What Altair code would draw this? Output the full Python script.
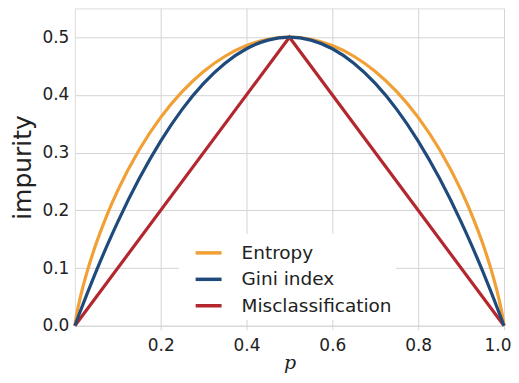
import altair as alt
import pandas as pd

p_vals = [0.0, 0.005, 0.01, 0.02, 0.03, 0.05, 0.075, 0.1, 0.15, 0.2, 0.25, 0.3, 0.35, 0.4, 0.45, 0.5,
          0.55, 0.6, 0.65, 0.7, 0.75, 0.8, 0.85, 0.9, 0.925, 0.95, 0.97, 0.98, 0.99, 0.995, 1.0]
entropy_vals = [0.0, 0.0227, 0.0404, 0.0707, 0.0972, 0.1432, 0.1922, 0.2345, 0.3049, 0.3610, 0.4056,
                0.4406, 0.4670, 0.4855, 0.4964, 0.5,
                0.4964, 0.4855, 0.4670, 0.4406, 0.4056, 0.3610, 0.3049, 0.2345, 0.1922, 0.1432,
                0.0972, 0.0707, 0.0404, 0.0227, 0.0]
gini_vals = [0.0, 0.00995, 0.0198, 0.0392, 0.0582, 0.095, 0.1388, 0.18, 0.255, 0.32, 0.375, 0.42,
             0.455, 0.48, 0.495, 0.5,
             0.495, 0.48, 0.455, 0.42, 0.375, 0.32, 0.255, 0.18, 0.1388, 0.095, 0.0582, 0.0392,
             0.0198, 0.00995, 0.0]
mis_p = [0.0, 0.5, 1.0]
mis_vals = [0.0, 0.5, 0.0]

series_names = ["Entropy", "Gini index", "Misclassification"]
series_colors = ["#F1A035", "#1F4A7C", "#B3282F"]
x_ticks = [0.2, 0.4, 0.6, 0.8, 1.0]
y_ticks = [0.0, 0.1, 0.2, 0.3, 0.4, 0.5]

rows = []
for p, v in zip(p_vals, entropy_vals):
    rows.append({"p": p, "impurity": v, "series": "Entropy"})
for p, v in zip(p_vals, gini_vals):
    rows.append({"p": p, "impurity": v, "series": "Gini index"})
curves = pd.DataFrame(rows)
mis = pd.DataFrame({"p": mis_p, "impurity": mis_vals, "series": "Misclassification"})

grid_color = "#d4d4d4"
font = "DejaVu Sans"

x_enc = alt.X("p:Q", scale=alt.Scale(domain=[0, 1], nice=False),
              axis=alt.Axis(values=x_ticks, format=".1f", title="p", grid=True,
                            gridColor=grid_color, domain=False, ticks=True, tickColor=grid_color,
                            tickSize=4, labelFontSize=17, labelPadding=8, labelColor="#222",
                            labelFlush=True, labelFlushOffset=7,
                            titleFont="DejaVu Serif", titleFontStyle="italic", titleFontWeight="normal",
                            titleFontSize=19, titlePadding=0, titleColor="#222", labelFont=font))
y_enc = alt.Y("impurity:Q", scale=alt.Scale(domain=[0, 0.55], nice=False),
              axis=alt.Axis(values=y_ticks, format=".1f", title="impurity", grid=True,
                            gridColor=grid_color, domain=False, ticks=False, labelFontSize=17,
                            labelPadding=6, labelColor="#222", titleFontSize=25,
                            titleFontWeight="normal", titlePadding=6, titleColor="#222",
                            labelFont=font, titleFont=font))
color_enc = alt.Color("series:N",
                      scale=alt.Scale(domain=series_names, range=series_colors),
                      legend=alt.Legend(title=None, orient="none", legendX=104, legendY=226,
                                        fillColor="white", symbolType="stroke", symbolSize=676,
                                        symbolStrokeWidth=3.5, labelFontSize=18.5, labelFont=font,
                                        labelColor="#222", labelOffset=18, rowPadding=1.5,
                                        padding=4, symbolOffset=11))

curve_layer = alt.Chart(curves).mark_line(strokeWidth=3.2, interpolate="monotone").encode(
    x=x_enc, y=y_enc, color=color_enc, detail="series:N", order="p:Q")
mis_layer = alt.Chart(mis).mark_line(strokeWidth=3.2).encode(
    x=x_enc, y=y_enc, color=color_enc, order="p:Q")

chart = alt.layer(mis_layer, curve_layer).properties(
    width=430, height=318, padding={"left": 2, "top": 0, "right": 0, "bottom": 0}
).configure_view(stroke=None).configure(font=font)

chart.save("out.html", embed_options={"renderer": "svg", "actions": False})
